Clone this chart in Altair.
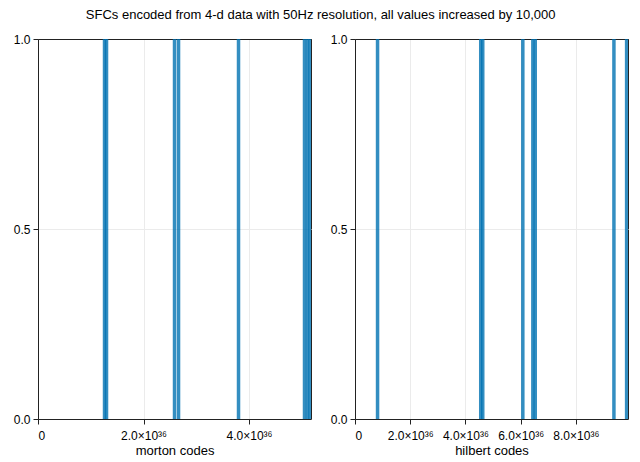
import altair as alt
import pandas as pd

# values in units of 1e36
morton_codes = [1.261, 1.299, 2.588, 2.664, 3.801, 5.052, 5.109, 5.156]
hilbert_codes = [0.817, 4.555, 4.628, 6.08, 6.443, 6.53, 9.38, 9.84]
morton_counts = [1] * len(morton_codes)
hilbert_counts = [1] * len(hilbert_codes)

morton_max = 5.175
hilbert_max = 9.89
morton_ticks = [0, 2, 4]
hilbert_ticks = [0, 2, 4, 6, 8]

FONT = "Liberation Sans"
BLUE = "#0072B2"

label_expr = "datum.value == 0 ? '0' : format(datum.value / 1e36, '.1f') + '×10³⁶'"
top_grid = {"condition": {"test": "datum.value == 1", "value": "#222"}, "value": "#ebebeb"}


def make(codes, counts, dmax, ticks, title):
    df = pd.DataFrame({"v": [c * 1e36 for c in codes], "n": counts, "zero": [0] * len(codes)})
    return alt.Chart(df).mark_rule(
        strokeWidth=3.5, color=BLUE, opacity=0.8, clip=True
    ).encode(
        x=alt.X(
            "v:Q",
            scale=alt.Scale(domain=[0, dmax * 1e36], nice=False, zero=True),
            axis=alt.Axis(
                title=title,
                values=[t * 1e36 for t in ticks],
                labelExpr=label_expr,
                labelPadding=6,
                titlePadding=3,
            ),
        ),
        y=alt.Y(
            "zero:Q",
            scale=alt.Scale(domain=[0, 1], nice=False),
            axis=alt.Axis(title=None, values=[0, 0.5, 1], format=".1f", labelPadding=3,
                          gridColor=top_grid),
        ),
        y2=alt.Y2("n:Q"),
    ).properties(width=273, height=380)


left = make(morton_codes, morton_counts, morton_max, morton_ticks, "morton codes")
right = make(hilbert_codes, hilbert_counts, hilbert_max, hilbert_ticks, "hilbert codes")

chart = alt.hconcat(left, right, spacing=17).properties(
    title=alt.TitleParams(
        "SFCs encoded from 4-d data with 50Hz resolution, all values increased by 10,000",
        font=FONT, fontSize=13, fontWeight="normal", color="#000", anchor="middle",
        offset=11,
    ),
    padding={"left": 4, "top": 0, "right": 0, "bottom": 0},
).configure_view(
    stroke="#222", strokeWidth=1
).configure_axis(
    labelFont=FONT, titleFont=FONT, labelFontSize=12, titleFontSize=13,
    titleFontWeight="normal", labelColor="#000", titleColor="#000",
    domainColor="#222", tickColor="#222", tickSize=5,
    gridColor="#ebebeb", gridWidth=1,
).configure_concat(spacing=17)

chart.save("out.html", embed_options={"renderer": "svg", "actions": False})
